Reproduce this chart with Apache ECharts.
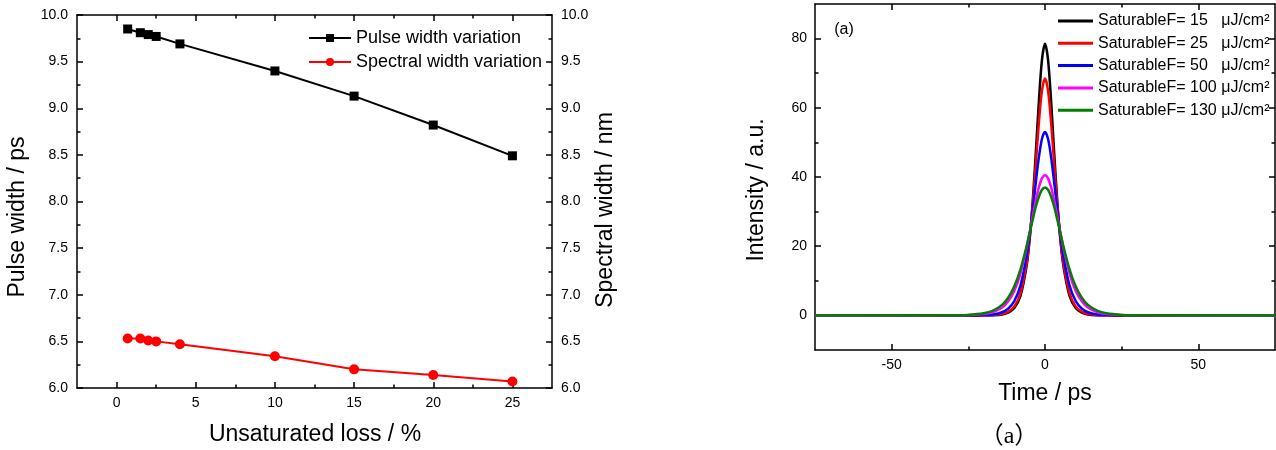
<!DOCTYPE html>
<html><head><meta charset="utf-8">
<script src="https://cdn.jsdelivr.net/npm/echarts@6/dist/echarts.min.js"></script>
<style>html,body{margin:0;padding:0;background:#fff}#c{width:1276px;height:450px}</style>
</head><body><div id="c"></div>
<script>
// ---- Left chart data ----
const lossX = [0.7, 1.5, 2, 2.5, 4, 10, 15, 20, 25];
const pulseWidth = [9.85, 9.81, 9.79, 9.77, 9.69, 9.40, 9.13, 8.82, 8.49];
const spectralWidth = [6.53, 6.53, 6.51, 6.50, 6.47, 6.34, 6.20, 6.14, 6.07];
const leftNames = ['Pulse width variation', 'Spectral width variation'];
const lossMajor = [0, 5, 10, 15, 20, 25];
const lossMinor = [2.5, 7.5, 12.5, 17.5, 22.5];

// ---- Right chart data ----
const timePs = [-75, -30, -25, -20, -17, -14, -12, -10, -8, -6, -5, -4, -3, -2, -1, 0, 1, 2, 3, 4, 5, 6, 8, 10, 12, 14, 17, 20, 25, 30, 75];
const I15  = [0, 0, 0, 0.01, 0.07, 0.29, 0.79, 2.13, 5.6, 14.3, 22.1, 33.1, 46.9, 61.8, 73.8, 78.5, 73.8, 61.8, 46.9, 33.1, 22.1, 14.3, 5.6, 2.13, 0.79, 0.29, 0.07, 0.01, 0, 0, 0];
const I25  = [0, 0, 0, 0.02, 0.10, 0.41, 1.04, 2.6, 6.4, 15.0, 22.3, 32.0, 43.7, 55.6, 64.9, 68.5, 64.9, 55.6, 43.7, 32.0, 22.3, 15.0, 6.4, 2.6, 1.04, 0.41, 0.10, 0.02, 0, 0, 0];
const I50  = [0, 0, 0.01, 0.09, 0.28, 0.91, 1.95, 4.16, 8.6, 17.1, 23.2, 30.5, 38.4, 45.7, 51.0, 53.0, 51.0, 45.7, 38.4, 30.5, 23.2, 17.1, 8.6, 4.16, 1.95, 0.91, 0.28, 0.09, 0.01, 0, 0];
const I100 = [0, 0.02, 0.08, 0.38, 0.94, 2.28, 4.07, 7.15, 12.1, 19.5, 24.0, 28.7, 33.2, 37.0, 39.6, 40.5, 39.6, 37.0, 33.2, 28.7, 24.0, 19.5, 12.1, 7.15, 4.07, 2.28, 0.94, 0.38, 0.08, 0.02, 0];
const I130 = [0, 0.04, 0.15, 0.60, 1.36, 3.03, 5.09, 8.4, 13.3, 20.0, 23.9, 27.7, 31.4, 34.3, 36.3, 37.0, 36.3, 34.3, 31.4, 27.7, 23.9, 20.0, 13.3, 8.4, 5.09, 3.03, 1.36, 0.60, 0.15, 0.04, 0];
const rightNames = ['SaturableF= 15   μJ/cm²', 'SaturableF= 25   μJ/cm²', 'SaturableF= 50   μJ/cm²', 'SaturableF= 100 μJ/cm²', 'SaturableF= 130 μJ/cm²'];
const rightColors = ['#000000', '#ff0000', '#0000ff', '#ff00ff', '#008000'];
const timeMajor = [-50, 0, 50];
const timeMinor = [-25, 25];
const intMajor = [0, 20, 40, 60, 80];
const intMinor = [10, 30, 50, 70];

const FONT = "'Liberation Sans', Arial, sans-serif";
const LC = {color: '#000', width: 1.5};

function ax(grid, pos, min, max, ticks, len, showLabels, showLine, extra) {
  return Object.assign({
    type: 'value', gridIndex: grid, position: pos, min: min, max: max,
    axisLine: {show: showLine, onZero: false, lineStyle: LC},
    axisTick: {show: true, inside: true, length: len, customValues: ticks, lineStyle: LC},
    axisLabel: {show: showLabels, customValues: ticks, margin: 8, color: '#000', fontSize: 14, fontFamily: FONT},
    splitLine: {show: false}
  }, extra || {});
}

const xAxes = [
  ax(0, 'bottom', -2.5, 27.5, lossMajor, 6, true, true),
  ax(0, 'bottom', -2.5, 27.5, lossMinor, 3.5, false, false),
  ax(0, 'top', -2.5, 27.5, lossMajor, 6, false, true),
  ax(0, 'top', -2.5, 27.5, lossMinor, 3.5, false, false),
  ax(1, 'bottom', -75, 75, timeMajor, 6, true, true, {}),
  ax(1, 'bottom', -75, 75, timeMinor, 3.5, false, false),
  ax(1, 'top', -75, 75, timeMajor, 6, false, true),
  ax(1, 'top', -75, 75, timeMinor, 3.5, false, false)
];

function leftY(pos) {
  return {
    type: 'value', gridIndex: 0, position: pos, min: 6, max: 10, interval: 0.5,
    axisLine: {show: true, onZero: false, lineStyle: LC},
    axisTick: {show: true, inside: true, length: 6, lineStyle: LC},
    minorTick: {show: true, splitNumber: 2, length: 3.5, lineStyle: LC},
    axisLabel: {margin: 9, color: '#000', fontSize: 14, fontFamily: FONT, formatter: v => v.toFixed(1)},
    splitLine: {show: false}, minorSplitLine: {show: false}
  };
}
const yAxes = [
  leftY('left'), leftY('right'),
  ax(1, 'left', -10, 90, intMajor, 6, true, true),
  ax(1, 'left', -10, 90, intMinor, 3.5, false, false),
  ax(1, 'right', -10, 90, intMajor, 6, false, true),
  ax(1, 'right', -10, 90, intMinor, 3.5, false, false)
];

const series = [
  {name: leftNames[0], type: 'line', xAxisIndex: 0, yAxisIndex: 0, data: lossX.map((x, i) => [x, pulseWidth[i]]),
   symbol: 'rect', symbolSize: 9, itemStyle: {color: '#000'}, lineStyle: {color: '#000', width: 2}},
  {name: leftNames[1], type: 'line', xAxisIndex: 0, yAxisIndex: 1, data: lossX.map((x, i) => [x, spectralWidth[i]]),
   symbol: 'circle', symbolSize: 10, itemStyle: {color: '#ff0000'}, lineStyle: {color: '#ff0000', width: 2}}
];
[I15, I25, I50, I100, I130].forEach((arr, k) => {
  series.push({name: rightNames[k], type: 'line', xAxisIndex: 4, yAxisIndex: 2,
    data: timePs.map((t, i) => [t, arr[i]]), symbol: 'none', smooth: 0.3,
    itemStyle: {color: rightColors[k]}, lineStyle: {color: rightColors[k], width: 2.5}});
});

function gtext(x, y, text, size, rot, family) {
  return {type: 'text', x: x, y: y, rotation: rot || 0,
    style: {text: text, fontSize: size, fontFamily: family || FONT, fill: '#000', align: 'center', verticalAlign: 'middle'}};
}

const chart = echarts.init(document.getElementById('c'), null, {renderer: 'canvas'});
chart.setOption({
  animation: false,
  backgroundColor: '#fff',
  grid: [
    {left: 77, top: 15, width: 475, height: 373},
    {left: 815, top: 4, width: 460, height: 346}
  ],
  xAxis: xAxes,
  yAxis: yAxes,
  legend: [
    {data: leftNames, orient: 'vertical', left: 308, top: 29, itemWidth: 42, itemHeight: 10, itemGap: 6, padding: 0,
     textStyle: {fontSize: 18, fontFamily: FONT, color: '#000'}},
    {data: rightNames, orient: 'vertical', left: 1058, top: 13, itemWidth: 35, itemHeight: 3, itemGap: 6.3, padding: 0,
     icon: 'rect', textStyle: {fontSize: 16, fontFamily: FONT, color: '#000'}}
  ],
  graphic: [
    gtext(17.5, 217, 'Pulse width / ps', 23, Math.PI / 2),
    gtext(606, 210, 'Spectral width / nm', 23, Math.PI / 2),
    gtext(315, 435, 'Unsaturated loss / %', 23, 0),
    gtext(757, 190, 'Intensity / a.u.', 23, Math.PI / 2),
    gtext(1045, 394, 'Time / ps', 23, 0),
    gtext(844, 30, '(a)', 16, 0),
    gtext(1009, 437, '（a）', 24, 0, "'Liberation Serif', 'Noto Sans CJK SC', serif")
  ],
  series: series
});
</script></body></html>
